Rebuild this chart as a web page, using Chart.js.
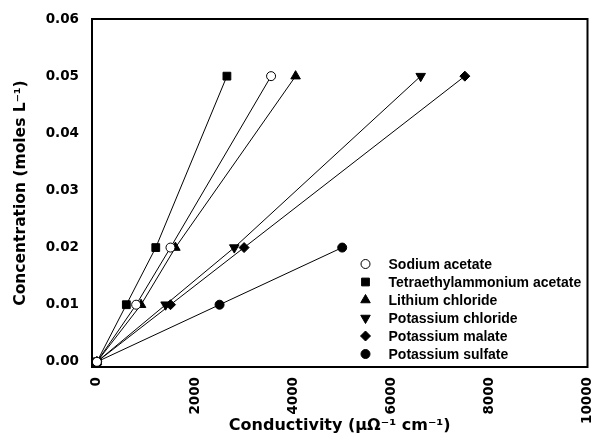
<!DOCTYPE html>
<html lang="en">
<head>
  <meta charset="UTF-8">
  <title>Concentration vs Conductivity</title>
  <script src="https://cdn.jsdelivr.net/npm/chart.js"></script>
  <style>
    html, body { margin: 0; padding: 0; background: #fff; }
    #wrap { width: 594px; height: 436px; }
  </style>
</head>
<body>
  <div id="wrap"><canvas id="myChart" width="594" height="436"></canvas></div>

  <script>
    // Concentration levels (moles/L), shared by every salt
    const concentration = [0, 0.01, 0.02, 0.05];

    // Conductivity readings (uS/cm) per salt
    const sodiumAcetate = [0, 800, 1500, 3550];
    const tetraethylammoniumAcetate = [0, 600, 1200, 2650];
    const lithiumChloride = [0, 900, 1600, 4050];
    const potassiumChloride = [0, 1400, 2800, 6600];
    const potassiumMalate = [0, 1500, 3000, 7500];
    const potassiumSulfate = [0, 2500, 5000];

    const xTicks = [0, 2000, 4000, 6000, 8000, 10000];
    const yTicks = [0, 0.01, 0.02, 0.03, 0.04, 0.05, 0.06];

    const legendFont = '"Liberation Sans", Arial, sans-serif';
    const axisFont = '"DejaVu Sans", Verdana, sans-serif';

    function toPoints(xs) {
      return xs.map((x, i) => ({ x: x, y: concentration[i] }));
    }

    function series(label, xs, style, radius, fill, rotation) {
      return {
        label: label,
        data: toPoints(xs),
        borderColor: '#000',
        borderWidth: 1,
        pointStyle: style,
        pointRadius: radius,
        pointHoverRadius: radius,
        pointRotation: rotation || 0,
        pointBackgroundColor: fill,
        pointBorderColor: '#000',
        pointBorderWidth: 1,
        showLine: true,
        fill: false,
        tension: 0
      };
    }

    const datasets = [
      series('Sodium acetate', sodiumAcetate, 'circle', 4.5, '#fff'),
      series('Tetraethylammonium acetate', tetraethylammoniumAcetate, 'rect', 5.5, '#000'),
      series('Lithium chloride', lithiumChloride, 'triangle', 5.5, '#000'),
      series('Potassium chloride', potassiumChloride, 'triangle', 5.5, '#000', 180),
      series('Potassium malate', potassiumMalate, 'rectRot', 5, '#000'),
      series('Potassium sulfate', potassiumSulfate, 'circle', 4.5, '#000')
    ];

    // frame round the plot area plus an inset legend
    const framePlugin = {
      id: 'frame',
      afterDatasetsDraw(chart) {
        const ctx = chart.ctx;
        const a = chart.chartArea;
        ctx.save();
        ctx.strokeStyle = '#000';
        ctx.lineWidth = 2;
        ctx.strokeRect(a.left, a.top, a.right - a.left, a.bottom - a.top);

        // legend
        const x0 = a.right - 222;
        let y = a.bottom - 103;
        ctx.font = 'bold 14px ' + legendFont;
        ctx.textBaseline = 'middle';
        ctx.textAlign = 'left';
        chart.data.datasets.forEach(ds => {
          ctx.fillStyle = ds.pointBackgroundColor;
          ctx.strokeStyle = '#000';
          ctx.lineWidth = 1;
          Chart.helpers.drawPoint(ctx, {
            pointStyle: ds.pointStyle,
            radius: ds.pointRadius,
            rotation: ds.pointRotation,
            borderWidth: 1
          }, x0, y);
          ctx.fillStyle = '#000';
          ctx.fillText(ds.label, x0 + 23, y + 1);
          y += 18;
        });
        ctx.restore();
      }
    };

    const ctx = document.getElementById('myChart').getContext('2d');
    const myChart = new Chart(ctx, {
      type: 'scatter',
      data: { datasets: datasets },
      plugins: [framePlugin],
      options: {
        responsive: false,
        animation: false,
        events: [],
        layout: { padding: { top: 19, right: 5, left: 0, bottom: 0 } },
        plugins: {
          legend: { display: false },
          tooltip: { enabled: false }
        },
        scales: {
          x: {
            type: 'linear',
            min: -100,
            max: 10000,
            afterBuildTicks(scale) {
              scale.ticks = xTicks.map(v => ({ value: v }));
            },
            afterFit(scale) {
              scale.height = 69;
              scale.paddingLeft = 0;
              scale.paddingRight = 0;
            },
            grid: { display: false, drawOnChartArea: false, drawTicks: true, tickLength: 5, tickColor: '#000', tickWidth: 1 },
            border: { display: true, color: '#000', width: 2 },
            ticks: {
              color: '#000',
              font: { family: axisFont, size: 13.5, weight: 'bold' },
              minRotation: 90,
              maxRotation: 90,
              padding: 5,
              callback: v => String(v)
            },
            title: {
              display: true,
              text: 'Conductivity (\u03bc\u03a9\u207b\u00b9 cm\u207b\u00b9)',
              color: '#000',
              font: { family: axisFont, size: 16, weight: 'bold' },
              padding: { top: 0, bottom: 1 }
            }
          },
          y: {
            type: 'linear',
            min: -0.0009,
            max: 0.06,
            afterBuildTicks(scale) {
              scale.ticks = yTicks.map(v => ({ value: v }));
            },
            afterFit(scale) {
              scale.width = 92;
              scale.paddingTop = 0;
              scale.paddingBottom = 0;
            },
            grid: { display: false, drawOnChartArea: false, drawTicks: true, tickLength: 5, tickColor: '#000', tickWidth: 1 },
            border: { display: true, color: '#000', width: 2 },
            ticks: {
              color: '#000',
              font: { family: axisFont, size: 13.5, weight: 'bold' },
              padding: 8,
              callback: v => v.toFixed(2)
            },
            title: {
              display: true,
              text: 'Concentration (moles L\u207b\u00b9)',
              color: '#000',
              font: { family: axisFont, size: 15.5, weight: 'bold' },
              padding: { top: 12, bottom: 0 }
            }
          }
        }
      }
    });
  </script>
</body>
</html>
